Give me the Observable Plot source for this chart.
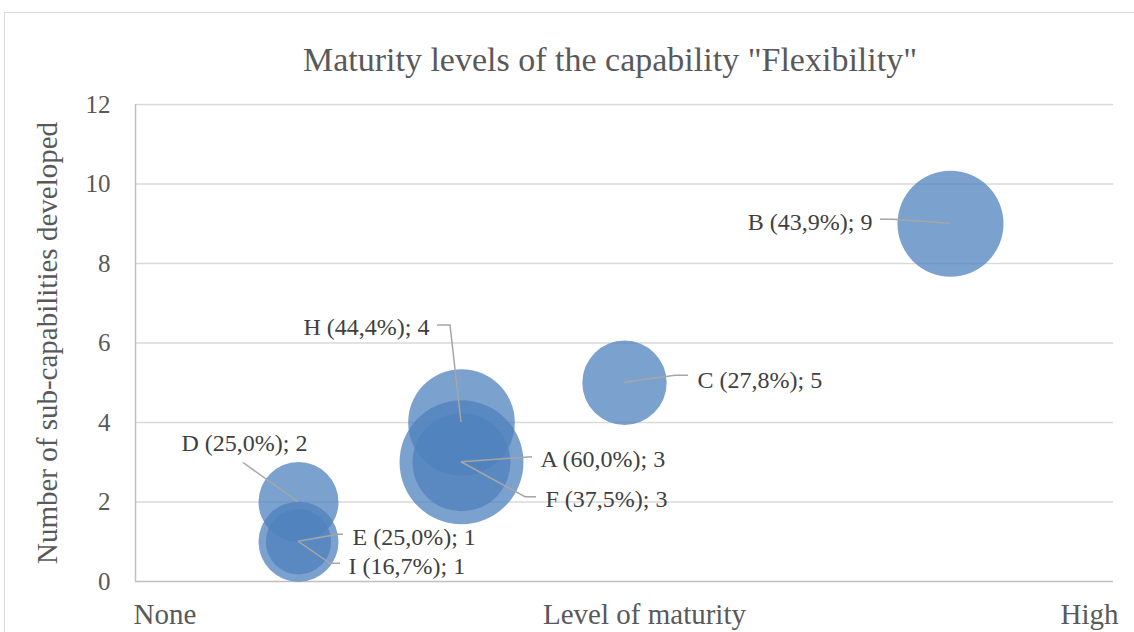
<!DOCTYPE html>
<html>
<head>
<meta charset="utf-8">
<script src="https://cdn.jsdelivr.net/npm/d3@7"></script>
<script src="https://cdn.jsdelivr.net/npm/@observablehq/plot@0.6"></script>
<style>
  html, body { margin: 0; padding: 0; background: #fff; overflow: hidden; width: 1134px; height: 632px; }
  #frame { position: absolute; left: 4px; top: 12px; width: 1200px; height: 700px; border: 1px solid #d9d9d9; box-sizing: border-box; }
  #title { position: absolute; left: 0; top: 41px; width: 1220px; text-align: center; font-family: "Liberation Serif", serif; font-size: 34px; line-height: 38px; color: #595959; }
  #chart { position: absolute; left: 5px; top: 92px; }
</style>
</head>
<body>
<div id="frame"></div>
<div id="title">Maturity levels of the capability "Flexibility"</div>
<div id="chart"></div>
<script>
// ---- data ----
const names  = ["A", "B", "C", "D", "E", "F", "H", "I"];
const levels = [2, 5, 3, 1, 1, 2, 2, 1];          // level of maturity (x)
const counts = [3, 9, 5, 2, 1, 3, 4, 1];          // sub-capabilities developed (y)
const shares = [60.0, 43.9, 27.8, 25.0, 25.0, 37.5, 44.4, 16.7]; // bubble size (%)
const yTicks = [0, 2, 4, 6, 8, 10, 12];
const xTickLabels = ["None", "High"];
const xTickValues = [0, 6];
const xTitle = "Level of maturity";
const yTitle = "Number of sub-capabilities developed";

const points = names.map((n, i) => ({name: n, level: levels[i], count: counts[i], share: shares[i]}));
points.forEach(p => p.label = `${p.name} (${p.share.toFixed(1).replace(".", ",")}%); ${p.count}`);

// ---- label layout (pixel offsets from bubble centre) ----
const layout = {
  B: {dx: -78, dy: -1, anchor: "end",    leader: [[0,0],[-57,-4],[-70,-4]]},
  C: {dx: 73,  dy: -2, anchor: "start",  leader: [[0,0],[51,-7],[64,-7]]},
  H: {dx: -32, dy: -95, anchor: "end",   leader: [[0,0],[-11,-97],[-24,-97]]},
  A: {dx: 79,  dy: -3, anchor: "start",  leader: [[0,0],[71,-5]]},
  F: {dx: 84,  dy: 37, anchor: "start",  leader: [[0,0],[64,35],[75,35]]},
  D: {dx: -54, dy: -59, anchor: "middle",leader: [[-55,-39],[0,0]]},
  E: {dx: 54,  dy: -4, anchor: "start",  leader: [[0,0],[40,-7],[45,-7]]},
  I: {dx: 50,  dy: 25, anchor: "start",  leader: [[0,0],[32,22],[42,22]]}
};

const labelMarks = points.map(p => Plot.text([p], {
  x: "level", y: "count", text: "label",
  dx: layout[p.name].dx, dy: layout[p.name].dy,
  textAnchor: layout[p.name].anchor,
  fill: "#404040", fontSize: 24
}));

const leaders = (index, scales) => {
  const g = d3.create("svg:g")
    .attr("fill", "none").attr("stroke", "#a6a6a6").attr("stroke-width", 1.5);
  for (const p of points) {
    const cx = scales.x(p.level), cy = scales.y(p.count);
    g.append("path").attr("d", d3.line()(layout[p.name].leader.map(([a, b]) => [cx + a, cy + b])));
  }
  return g.node();
};

const chart = Plot.plot({
  width: 1129,
  height: 540,
  marginLeft: 130,
  marginRight: 21,
  marginTop: 12,
  marginBottom: 51,
  style: {fontFamily: "Liberation Serif, serif", fontSize: "25px", color: "#595959", background: "transparent"},
  x: {domain: [0, 6], axis: null},
  y: {domain: [0, 12], ticks: yTicks, tickSize: 0, tickPadding: 25, label: null},
  r: {type: "sqrt", domain: [0, 100], range: [0, 80]},
  marks: [
    Plot.ruleY(yTicks.filter(d => d > 0), {stroke: "#d9d9d9", strokeWidth: 1.5}),
    Plot.ruleY([0], {stroke: "#bfbfbf", strokeWidth: 1.5}),
    Plot.ruleX([0], {stroke: "#bfbfbf", strokeWidth: 1.5}),
    Plot.dot(points, {x: "level", y: "count", r: "share", fill: "#4F81BD", fillOpacity: 0.75, stroke: null}),
    leaders,
    ...labelMarks,
    Plot.text([xTickLabels[0]], {x: () => xTickValues[0], frameAnchor: "bottom", dx: -2, dy: 42, textAnchor: "start", fill: "#595959", fontSize: 29}),
    Plot.text([xTickLabels[1]], {x: () => xTickValues[1], frameAnchor: "bottom", dx: 5, dy: 42, textAnchor: "end", fill: "#595959", fontSize: 29}),
    Plot.text([xTitle], {x: () => 3, frameAnchor: "bottom", dx: 20, dy: 42, textAnchor: "middle", fill: "#595959", fontSize: 29}),
    Plot.text([yTitle], {frameAnchor: "left", dx: -88, rotate: -90, textAnchor: "middle", fill: "#595959", fontSize: 29})
  ]
});
document.getElementById("chart").appendChild(chart);
</script>
</body>
</html>
